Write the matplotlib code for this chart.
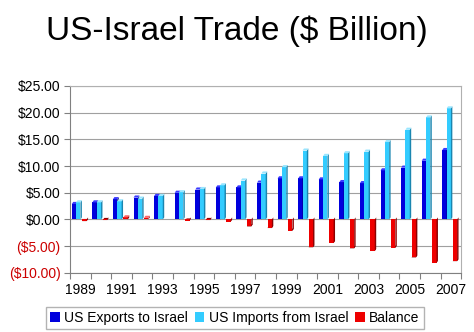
import matplotlib
matplotlib.use("Agg")
import matplotlib.pyplot as plt
import numpy as np

plt.rcParams['font.family'] = ['Liberation Sans', 'DejaVu Sans']

# data ($ billion)
years = list(range(1989, 2008))
exports = [2.9, 3.2, 3.8, 4.1, 4.4, 5.0, 5.6, 6.0, 6.0, 6.9, 7.7, 7.7, 7.5, 7.0, 6.8, 9.2, 9.7, 11.0, 13.0]
imports = [3.2, 3.2, 3.4, 3.9, 4.4, 5.1, 5.7, 6.4, 7.3, 8.6, 9.8, 12.9, 11.9, 12.4, 12.7, 14.5, 16.8, 19.1, 20.8]
balance = [-0.3, -0.1, 0.4, 0.3, 0.0, -0.2, -0.1, -0.4, -1.3, -1.6, -2.1, -5.2, -4.4, -5.4, -5.9, -5.3, -7.1, -8.1, -7.8]

series = [
    ("US Exports to Israel", exports, "#0000dd", "#00007a", "#3a3aff", -0.42),
    ("US Imports from Israel", imports, "#33ccff", "#1a86b0", "#99e6ff", -0.21),
    ("Balance", balance, "#ee0000", "#8c0000", "#ff6666", 0.09),
]

fig = plt.figure(figsize=(4.74, 3.32), dpi=100)
ax = fig.add_axes([0.148, 0.178, 0.825, 0.563])

x = np.arange(len(years))
w = 0.21
dx = 0.07
dy = 0.4

for name, vals, front, side, top, off in series:
    left = x + off
    ax.bar(left, vals, width=w, align='edge', color=front, label=name, zorder=3)
    for xl, v in zip(left, vals):
        lo, hi = min(0, v), max(0, v)
        xr = xl + w
        ax.fill([xr, xr + dx, xr + dx, xr], [lo, lo + dy, hi + dy, hi], color=side, lw=0, zorder=3)
        if v > 0:
            ax.fill([xl, xl + dx, xr + dx, xr], [hi, hi + dy, hi + dy, hi], color=top, lw=0, zorder=3)
        elif v < 0:
            ax.fill([xl, xl + dx, xr + dx, xr], [lo, lo + dy, lo + dy, lo], color=side, lw=0, zorder=2.9)

ax.set_xlim(-0.5, len(years) - 0.5)
ax.set_ylim(-10, 25)

yt = np.arange(-10, 26, 5)
ax.set_yticks(yt)
ax.set_yticklabels([f"${v:.2f}" if v >= 0 else f"(${-v:.2f})" for v in yt], fontsize=10)
for lab, v in zip(ax.get_yticklabels(), yt):
    lab.set_color("#cc0000" if v < 0 else "black")
ax.tick_params(axis='y', length=4, color='#808080', pad=3)

# ticks between categories, labels on every other year
ax.set_xticks(np.arange(-0.5, len(years), 1.0))
ax.set_xticklabels([])
ax.set_xticks(x, minor=True)
ax.set_xticklabels([str(y) if (y - 1989) % 2 == 0 else "" for y in years], minor=True, fontsize=10)
ax.tick_params(axis='x', which='major', length=4, color='#808080')
ax.tick_params(axis='x', which='minor', length=0, pad=7)

ax.yaxis.grid(True, color='#a0a0a0', lw=0.8, zorder=0)
ax.set_axisbelow(True)
for s in ['top', 'right']:
    ax.spines[s].set_color('#b0b0b0')
for s in ['left', 'bottom']:
    ax.spines[s].set_color('#808080')

fig.text(0.5, 0.905, "US-Israel Trade ($ Billion)", ha='center', va='center', fontsize=24)

fig.legend(loc='center', bbox_to_anchor=(0.495, 0.042), ncol=3, fontsize=10,
           frameon=True, fancybox=False, edgecolor='#a0a0a0',
           handlelength=0.7, handleheight=0.7, handletextpad=0.3,
           columnspacing=0.5, borderpad=0.3)

fig.savefig("out.png", dpi=100)
